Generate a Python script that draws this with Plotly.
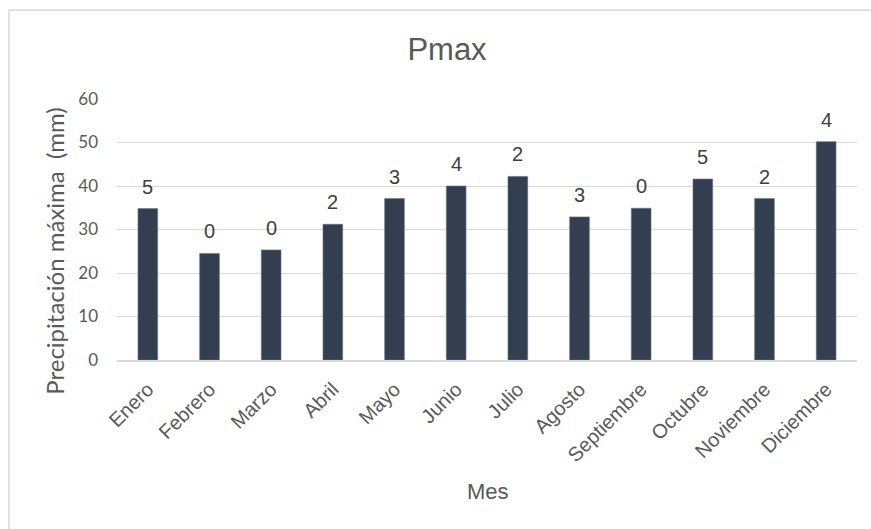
import plotly.graph_objects as go

meses = ["Enero", "Febrero", "Marzo", "Abril", "Mayo", "Junio", "Julio",
         "Agosto", "Septiembre", "Octubre", "Noviembre", "Diciembre"]
pmax = [34.8, 24.5, 25.3, 31.2, 37.1, 40.0, 42.2, 32.9, 34.9, 41.6, 37.1, 50.2]
etiquetas = ["5", "0", "0", "2", "3", "4", "2", "3", "0", "5", "2", "4"]
y_ticks = [0, 10, 20, 30, 40, 50, 60]

W, H = 871, 529
L, R, T, B = 117, 14, 99, 168.5
pw, ph = W - L - R, H - T - B

def px2paper_x(px):
    return (px - L) / pw

def px2paper_y(py):
    return (H - B - py) / ph

fig = go.Figure()
fig.add_trace(go.Bar(
    x=meses, y=pmax,
    marker=dict(color="#333F50", line=dict(color="#6b7585", width=0.6)),
    width=0.32,
    hoverinfo="x+y",
))

for m, v, t in zip(meses, pmax, etiquetas):
    fig.add_annotation(x=m, y=v, text=t, showarrow=False, yshift=22,
                       yanchor="middle", xanchor="center",
                       font=dict(family="Liberation Sans, Arial", size=20, color="#404040"))

# axis titles
fig.add_annotation(xref="paper", yref="paper", x=px2paper_x(55), y=px2paper_y(252),
                   text="Precipitación máxima  (mm)", textangle=-90, showarrow=False,
                   xanchor="center", yanchor="middle",
                   font=dict(family="Lato, Liberation Sans", size=24, color="#595959"))
fig.add_annotation(xref="paper", yref="paper", x=px2paper_x(488), y=px2paper_y(492),
                   text="Mes", showarrow=False, xanchor="center", yanchor="middle",
                   font=dict(family="Liberation Sans, Arial", size=22, color="#595959"))

# chart border
fig.add_shape(type="rect", xref="paper", yref="paper",
              x0=px2paper_x(9), x1=px2paper_x(880), y0=px2paper_y(545), y1=px2paper_y(10),
              line=dict(color="#D9D9D9", width=1.5), fillcolor="rgba(0,0,0,0)", layer="below")

fig.update_layout(
    width=W, height=H,
    margin=dict(l=L, r=R, t=T, b=B, pad=0),
    paper_bgcolor="white", plot_bgcolor="white",
    showlegend=False,
    title=dict(text="Pmax", x=447 / W, xref="container", xanchor="center",
               y=1 - 49 / H, yref="container", yanchor="middle",
               font=dict(family="Liberation Sans, Arial", size=31, color="#595959")),
    xaxis=dict(tickangle=-45, showgrid=False, showline=True, linecolor="#D9D9D9",
               linewidth=1.5, ticks="", ticklabelstandoff=8,
               tickfont=dict(family="Liberation Sans, Arial", size=20, color="#595959")),
    yaxis=dict(range=[0, 60], tickvals=y_ticks, showgrid=True, gridcolor="#D9D9D9",
               gridwidth=1.3, zeroline=False, showline=False, ticks="",
               ticklabelstandoff=18,
               tickfont=dict(family="Lato, Liberation Sans", size=17, color="#595959")),
)

fig.write_html("out.html")
